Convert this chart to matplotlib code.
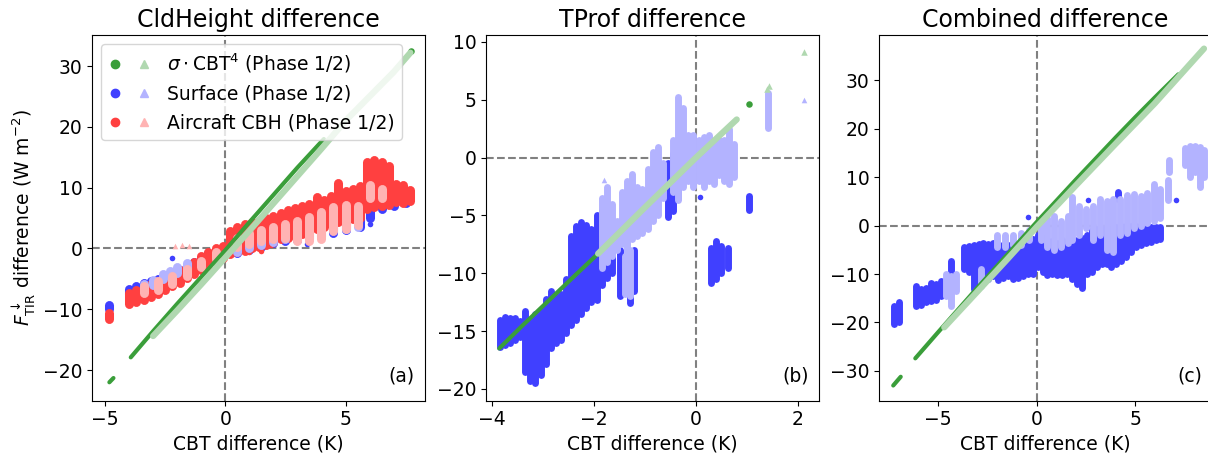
import numpy as np
import matplotlib
matplotlib.use("Agg")
import matplotlib.pyplot as plt
from matplotlib.lines import Line2D
from matplotlib.legend_handler import HandlerTuple

nan = np.nan

# colours: phase 1 (solid) / phase 2 (light)
green1, green2 = '#3a9e3a', '#b0d8b0'
blue1, blue2 = '#4040ff', '#b3b3ff'
red1, red2 = '#ff4040', '#ffb3b3'

# ---------------- panel (a): CldHeight difference ----------------
a_green1_x = [-4.82, -4.65, nan, -3.93, -3.0, -2.0, -1.0, 0.0, 1.0, 2.0, 3.0, 4.1]
a_green1_y = [-22.0, -21.3, nan, -17.9, -13.6, -9.1, -4.7, -0.3, 4.3, 8.8, 13.3, 18.0]
a_green1_px = [7.71]
a_green1_py = [32.4]
a_green2_x = [-3.0, -2.0, -1.0, 0.0, 1.0, 2.0, 3.0, 4.0, 5.0, 6.0, 7.0, 7.7]
a_green2_y = [-14.4, -10.2, -5.9, -1.5, 2.9, 7.4, 11.9, 16.4, 21.0, 25.0, 29.0, 32.2]

a_blue1_x = [-4.85, -4.0, -3.7, -3.4, -3.1, -2.8, -2.5, -2.2, -1.9, -1.6, -1.3, -1.0, -0.7, -0.4, -0.1,
             0.5, 1.0, 1.5, 2.0, 2.5, 3.0, 3.5, 4.0, 4.5, 5.0, 5.6, 6.0, 6.5, 7.0, 7.5]
a_blue1_lo = [-10.0, -7.5, -7.2, -6.9, -6.5, -6.0, -5.5, -5.0, -4.4, -3.8, -3.2, -2.6, -2.0, -1.6, -1.0,
              -0.8, -0.2, 0.3, 0.9, 1.2, 1.4, 1.7, 2.0, 2.5, 3.0, 3.5, 5.0, 6.5, 7.0, 7.5]
a_blue1_hi = [-9.3, -6.6, -6.2, -5.7, -5.3, -5.0, -4.6, -4.0, -3.5, -2.8, -2.2, -1.5, -0.8, -0.3, 0.2,
              0.8, 1.5, 2.0, 2.4, 2.8, 3.0, 3.3, 3.6, 4.2, 5.0, 8.0, 12.0, 12.3, 9.5, 9.0]
a_blue1_px = [-2.2, 3.4, 6.0]
a_blue1_py = [-1.6, 0.8, 4.0]

a_blue2_x = [-3.4, -3.0, -2.6, -2.3, -2.0, -1.6, 0.5, 1.0, 1.5, 2.0, 2.5, 3.0, 3.5, 4.0, 4.5, 5.0, 5.5]
a_blue2_lo = [-6.6, -6.0, -5.0, -4.6, -4.0, -3.2, -0.5, 0.0, 0.5, 1.0, 1.5, 2.0, 2.5, 2.8, 3.0, 3.2, 3.5]
a_blue2_hi = [-5.8, -5.2, -4.2, -3.7, -3.0, -2.4, 1.5, 2.0, 2.5, 3.0, 3.5, 4.0, 4.5, 4.8, 5.0, 5.3, 5.5]

a_red1_x = [-4.85, -4.0, -3.7, -3.4, -3.1, -2.8, -2.5, -2.2, -1.9, -1.6, -1.3, -1.0, -0.7, -0.4, -0.1,
            0.2, 0.5, 0.8, 1.1, 1.4, 1.7, 2.0, 2.3, 2.6, 2.9, 3.2, 3.5, 3.8, 4.1, 4.4, 4.7, 5.0,
            5.3, 5.6, 5.9, 6.2, 6.5, 6.8, 7.1, 7.4, 7.7]
a_red1_lo = [-11.6, -9.2, -8.8, -8.4, -8.0, -7.5, -6.9, -6.2, -5.6, -4.9, -4.2, -3.5, -2.9, -2.3, -1.5,
             -0.9, -0.6, -0.4, 0.0, 0.3, 0.6, 1.0, 1.5, 1.8, 2.1, 2.4, 2.8, 3.2, 3.6, 4.0, 4.3, 4.6,
             4.8, 5.0, 6.5, 6.8, 7.0, 7.2, 7.6, 7.4, 7.8]
a_red1_hi = [-10.6, -7.3, -6.8, -6.2, -5.8, -5.3, -4.8, -4.2, -3.6, -2.9, -2.2, -1.2, -0.6, 0.1, 0.4,
             2.8, 3.6, 4.0, 4.3, 4.6, 5.0, 5.3, 5.8, 6.3, 6.6, 7.0, 7.3, 8.4, 8.0, 8.6, 10.8, 9.5,
             9.8, 10.3, 14.3, 14.5, 14.2, 13.5, 10.6, 10.5, 9.6]
a_red1_px = [1.0, 1.5, 1.9]
a_red1_py = [-0.5, -0.4, 0.6]

a_red2_x = [-3.4, -2.8, -2.2, -1.6, -1.0, -0.4, 0.5, 1.0, 1.5, 2.0, 2.5, 3.0, 3.5, 4.0, 4.5, 5.0, 5.5, 6.0, 6.5]
a_red2_lo = [-7.4, -6.8, -5.8, -4.5, -3.0, -1.8, 0.3, 0.8, 1.2, 1.6, 1.8, 1.3, 1.2, 1.5, 2.8, 3.2, 3.8, 8.3, 8.3]
a_red2_hi = [-6.2, -5.4, -4.6, -3.4, -2.0, -0.5, 1.8, 2.6, 3.0, 3.5, 4.0, 4.5, 5.2, 6.0, 6.8, 7.2, 7.0, 10.5, 9.8]
a_red2_px = [-2.1, -1.8, -1.5]
a_red2_py = [0.4, 0.5, 0.4]

# ---------------- panel (b): TProf difference ----------------
b_green1_x = [-3.86, -3.4, -2.9, -2.4, -1.92]
b_green1_y = [-16.5, -14.5, -12.4, -10.3, -8.3]
b_green1_px = [1.05]
b_green1_py = [4.6]
b_green2_x = [-1.92, -1.0, 0.0, 0.8]
b_green2_y = [-8.3, -4.3, 0.0, 3.3]
b_green2_px = [1.40, 1.44, 2.12]
b_green2_py = [5.9, 6.2, 9.1]

b_blue1_x = [-3.85, -3.75, -3.65, -3.55, -3.45, -3.35, -3.25, -3.15, -3.05, -2.95, -2.85, -2.75, -2.65,
             -2.55, -2.45, -2.35, -2.25, -2.15, -2.05, -1.95, -1.85, -1.75, -1.65, -1.50, -1.30,
             -1.22, -0.55, -0.45, -0.35, -0.05, 0.30, 0.40, 0.50, 0.62, 1.05]
b_blue1_lo = [-16.4, -16.2, -16.0, -15.8, -15.5, -18.5, -19.3, -19.5, -18.8, -17.8, -16.5, -16.0, -15.8,
              -15.2, -14.5, -14.0, -13.5, -13.0, -12.5, -12.3, -11.0, -10.4, -10.0, -12.0, -12.6,
              -11.5, -5.1, -4.6, -3.5, -1.5, -10.8, -10.5, -10.0, -9.5, -4.5]
b_blue1_hi = [-14.0, -13.8, -13.9, -13.9, -14.1, -13.3, -14.0, -13.5, -13.3, -12.2, -11.5, -12.0, -11.8,
              -10.5, -6.8, -5.9, -5.6, -5.8, -6.2, -5.0, -4.6, -6.5, -7.0, -8.0, -8.3,
              -8.0, -0.5, 0.3, -1.0, 1.8, -7.8, -7.2, -7.6, -7.8, -3.3]
b_blue1_px = [-0.42, 0.07]
b_blue1_py = [1.35, -3.4]

b_blue2_x = [-1.85, -1.75, -1.65, -1.55, -1.45, -1.35, -1.25, -1.15, -1.05, -1.40, -1.30, -0.95, -0.85,
             -0.75, -0.65, -0.45, -0.35, -0.25, -0.15, -0.05, 0.05, 0.15, 0.25, 0.35, 0.45, 0.55,
             0.65, 0.75, 1.42]
b_blue2_lo = [-9.5, -9.0, -8.5, -8.0, -7.5, -8.2, -7.0, -6.8, -6.5, -11.8, -12.0, -6.2, -5.5,
              -5.0, -3.5, -3.0, -3.7, -2.5, -2.0, -2.5, -2.0, -2.5, -2.0, -2.3, -1.5, -2.0,
              -2.3, -1.7, 2.6]
b_blue2_hi = [-3.5, -2.5, -4.0, -5.5, -3.0, -2.0, -1.4, -2.5, -2.7, -8.5, -8.0, -1.0, 0.5,
              0.9, -0.5, 1.5, 5.2, 4.3, 2.0, 2.0, 1.5, 1.8, 2.0, 1.3, 1.5, 1.5,
              2.5, 1.2, 5.6]
b_blue2_px = [2.12, -1.8]
b_blue2_py = [5.0, -1.9]

# ---------------- panel (c): Combined difference ----------------
c_green1_x = [-7.28, -6.9, nan, -6.16, -5.0, -4.0, -3.0, -2.0, -1.0, 0.0, 1.0, 2.0, 3.0, 4.0, 5.0, 6.0, 7.2]
c_green1_y = [-33.0, -31.2, nan, -27.4, -22.0, -17.4, -12.8, -8.3, -3.8, 0.7, 5.1, 9.5, 13.8, 18.1, 22.3, 26.4, 31.2]
c_green2_x = [-4.69, -3.0, -1.5, 0.0, 2.0, 4.0, 6.0, 8.5]
c_green2_y = [-21.0, -13.6, -7.0, -0.3, 8.3, 16.8, 25.2, 36.5]

c_blue1_x = [-7.25, -7.0, -6.1, -5.85, -5.6, -5.35, -5.1, -4.85, -4.35, -3.7, -3.45, -3.2, -2.95, -2.7,
             -2.45, -2.2, -1.95, -1.7, -1.45, -1.2, -0.95, -0.7, -0.45, -0.2, 0.05, 0.3, 0.55, 0.8,
             1.05, 1.3, 1.55, 1.8, 2.05, 2.3, 2.55, 2.8, 3.05, 3.3, 3.55, 3.8, 4.05, 4.3, 4.55,
             4.8, 5.05, 5.3, 5.55, 5.8, 6.05, 6.25, 4.15]
c_blue1_lo = [-20.3, -20.0, -16.5, -16.3, -15.8, -15.5, -15.3, -14.5, -11.8, -9.0, -9.5, -13.0, -12.5, -11.8,
              -11.0, -10.5, -11.2, -10.8, -10.5, -11.0, -10.8, -10.5, -10.0, -10.0, -8.5, -9.6, -10.2, -10.0,
              -10.3, -10.2, -10.0, -11.0, -12.0, -12.8, -10.0, -9.5, -8.5, -8.0, -8.0, -8.6, -8.0, -7.3, -6.5,
              -5.5, -4.5, -4.0, -3.5, -3.3, -3.0, -2.8, 5.5]
c_blue1_hi = [-16.5, -15.8, -12.5, -13.0, -12.8, -11.8, -12.0, -11.5, -7.3, -4.5, -4.2, -4.0, -3.8, -3.5,
              -3.8, -3.6, -3.8, -4.0, -4.0, -3.3, -3.8, -3.3, -3.5, -2.8, -2.0, -2.5, -3.0, -3.2,
              -3.5, -3.0, -3.8, -3.0, -3.0, -2.5, -2.0, -1.0, -0.8, -0.7, -0.5, -0.8, -0.3, 0.0, 0.0,
              0.0, 0.0, 0.0, -0.2, -0.2, -0.2, -0.3, 6.9]
c_blue1_px = [7.07, 2.59, -0.43]
c_blue1_py = [5.2, 5.2, 1.7]

c_blue2_x = [-4.6, -4.35, -4.1, -2.8, -2.0, -1.6, -1.2, -0.8, -0.4, 0.2, 0.55, 0.9, 1.25, 1.6, 1.8, 2.15,
             2.5, 2.85, 3.2, 3.55, 3.9, 4.25, 4.6, 4.95, 5.3, 5.6, 5.95, 6.25, 6.65, 6.7, 7.55, 7.8,
             8.05, 8.3, 8.5]
c_blue2_lo = [-14.5, -16.5, -13.5, -12.5, -4.5, -4.5, -4.0, -4.0, -3.0, -3.0, -4.5, -5.0, -4.5, -3.5, -3.0, -2.0,
              -0.5, -3.0, -2.0, -5.0, -5.5, -2.0, -1.5, -0.5, 0.0, 0.5, 1.0, 1.5, 5.2, 11.1, 12.5, 10.0,
              11.0, 8.0, 10.0]
c_blue2_hi = [-10.0, -10.5, -10.0, -9.0, -2.0, -2.0, -2.0, -1.5, -1.0, 1.0, 1.5, 2.0, 1.0, 2.0, 5.8, 4.0,
              3.5, 4.0, 5.5, 5.0, 5.5, 5.5, 6.3, 6.5, 6.0, 6.8, 8.5, 7.5, 9.3, 13.5, 16.0, 16.5,
              16.5, 16.2, 15.5]

panels = [
    dict(title='CldHeight difference', tag='(a)', xlim=(-5.54, 8.3), ylim=(-25.0, 35.1),
         yticks=[-20, -10, 0, 10, 20, 30], xticks=[-5, 0, 5], lw=6.5,
         green1=(a_green1_x, a_green1_y), green1_pts=(a_green1_px, a_green1_py),
         green2=(a_green2_x, a_green2_y), green2_pts=None,
         clouds=[(a_blue1_x, a_blue1_lo, a_blue1_hi, blue1, a_blue1_px, a_blue1_py, 'o'),
                 (a_red1_x, a_red1_lo, a_red1_hi, red1, a_red1_px, a_red1_py, 'o'),
                 (a_blue2_x, a_blue2_lo, a_blue2_hi, blue2, [], [], '^'),
                 (a_red2_x, a_red2_lo, a_red2_hi, red2, a_red2_px, a_red2_py, '^')]),
    dict(title='TProf difference', tag='(b)', xlim=(-4.12, 2.41), ylim=(-21.0, 10.6),
         yticks=[-20, -15, -10, -5, 0, 5, 10], xticks=[-4, -2, 0, 2], lw=5.0,
         green1=(b_green1_x, b_green1_y), green1_pts=(b_green1_px, b_green1_py),
         green2=(b_green2_x, b_green2_y), green2_pts=(b_green2_px, b_green2_py),
         clouds=[(b_blue1_x, b_blue1_lo, b_blue1_hi, blue1, b_blue1_px, b_blue1_py, 'o'),
                 (b_blue2_x, b_blue2_lo, b_blue2_hi, blue2, b_blue2_px, b_blue2_py, '^')]),
    dict(title='Combined difference', tag='(c)', xlim=(-8.0, 8.9), ylim=(-36.1, 39.3),
         yticks=[-30, -20, -10, 0, 10, 20, 30], xticks=[-5, 0, 5], lw=5.0,
         green1=(c_green1_x, c_green1_y), green1_pts=None,
         green2=(c_green2_x, c_green2_y), green2_pts=None,
         clouds=[(c_blue1_x, c_blue1_lo, c_blue1_hi, blue1, c_blue1_px, c_blue1_py, 'o'),
                 (c_blue2_x, c_blue2_lo, c_blue2_hi, blue2, [], [], '^')]),
]

fig = plt.figure(figsize=(12.08, 4.58), dpi=100)
lefts = [0.0762, 0.4023, 0.7277]
FS = 13.5

for p, left in zip(panels, lefts):
    ax = fig.add_axes([left, 0.1255, 0.2755, 0.798])
    ax.axhline(0, color='grey', ls='--', lw=1.5, zorder=1)
    ax.axvline(0, color='grey', ls='--', lw=1.5, zorder=1)
    for x, lo, hi, col, px, py, mk in p['clouds']:
        lc = ax.vlines(x, lo, hi, colors=col, lw=p['lw'], zorder=2)
        lc.set_capstyle('round')
        if len(px):
            ax.scatter(px, py, s=16, color=col, marker=mk, lw=0, zorder=2)
    # phase 1 green underneath, phase 2 green on top
    gx, gy = p['green1']
    ax.plot(gx, gy, color=green1, lw=3.0, solid_capstyle='round', zorder=3)
    if p['green1_pts'] is not None:
        ax.scatter(*p['green1_pts'], s=22, color=green1, marker='o', lw=0, zorder=3)
    gx, gy = p['green2']
    ax.plot(gx, gy, color=green2, lw=4.5, solid_capstyle='round', zorder=4)
    if p['green2_pts'] is not None:
        ax.scatter(*p['green2_pts'], s=22, color=green2, marker='^', lw=0, zorder=4)
    ax.set_xlim(p['xlim'])
    ax.set_ylim(p['ylim'])
    ax.set_xticks(p['xticks'])
    ax.set_yticks(p['yticks'])
    ax.tick_params(labelsize=FS)
    ax.set_title(p['title'], fontsize=17)
    ax.set_xlabel('CBT difference (K)', fontsize=FS)
    ax.text(0.97, 0.04, p['tag'], transform=ax.transAxes, ha='right', va='bottom', fontsize=FS)
    if p['tag'] == '(a)':
        ax.set_ylabel(r'$F^{\downarrow}_{\mathrm{TIR}}$ difference (W m$^{-2}$)', fontsize=FS)
        handles = [(Line2D([], [], ls='', marker='o', color=c1, ms=6),
                    Line2D([], [], ls='', marker='^', color=c2, ms=6))
                   for c1, c2 in [(green1, green2), (blue1, blue2), (red1, red2)]]
        labels = [r'$\sigma\cdot$CBT$^4$ (Phase 1/2)', 'Surface (Phase 1/2)',
                  'Aircraft CBH (Phase 1/2)']
        ax.legend(handles, labels, loc='upper left', fontsize=FS,
                  handler_map={tuple: HandlerTuple(ndivide=None, pad=0.9)},
                  handlelength=2.2, handletextpad=0.9, labelspacing=0.5)

fig.savefig('out.png', dpi=100)
